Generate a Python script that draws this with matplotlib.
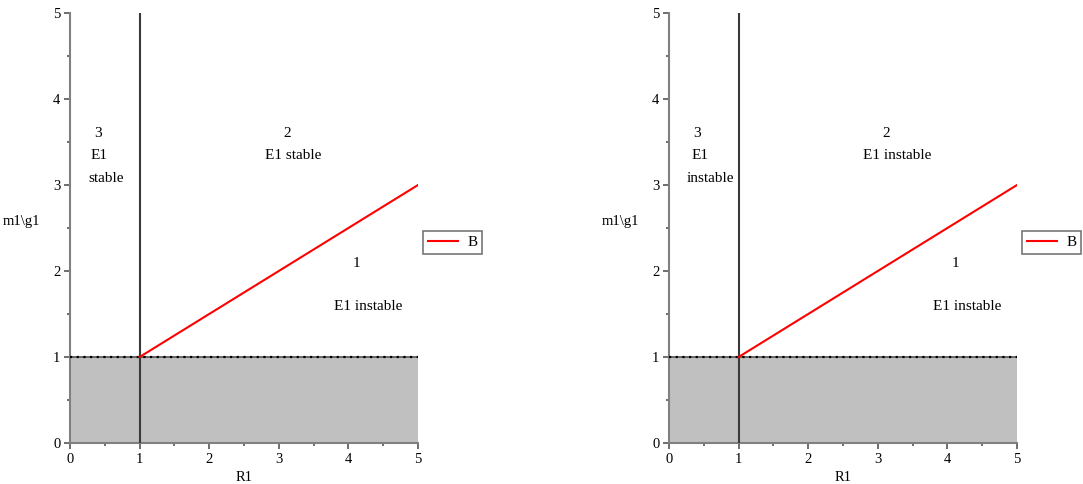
import matplotlib
matplotlib.use("Agg")
import matplotlib.pyplot as plt
import numpy as np

plt.rcParams['font.family'] = ['Liberation Serif', 'DejaVu Serif']

# Data
b_x = [1, 5]
b_y = [1, 3]
vline_x = 1
hline_y = 1
xlim = (0, 5)
ylim = (0, 5)
panels = [
    {"region3": ["3", "E1", "stable"], "region2": ["2", "E1 stable"], "region1": ["1", "E1 instable"]},
    {"region3": ["3", "E1", "instable"], "region2": ["2", "E1 instable"], "region1": ["1", "E1 instable"]},
]
region3_pos = [(0.40, 3.60), (0.42, 3.34), (0.52, 3.08)]
region3_pos_r = [(0.40, 3.60), (0.45, 3.34), (0.60, 3.08)]
region2_pos = [(3.12, 3.60), (3.20, 3.34)]
region2_pos_r = [(3.12, 3.60), (3.28, 3.34)]
region1_pos = [(4.12, 2.09), (4.28, 1.59)]

fig = plt.figure(figsize=(10.83, 4.84), dpi=100)
lefts = [70/1083, 669/1083]
for i, (left, p) in enumerate(zip(lefts, panels)):
    ax = fig.add_axes([left, 41/484, 348/1083, 430/484])
    ax.set_xlim(*xlim)
    ax.set_ylim(*ylim)
    ax.axhspan(0, hline_y, xmin=0, xmax=1, color='#c0c0c0', zorder=0, lw=0)
    ax.plot([xlim[0], xlim[1]], [hline_y, hline_y], color='#555555', lw=1.2, zorder=2)
    ax.plot([xlim[0], xlim[1]], [hline_y, hline_y], color='black', lw=1.6, ls=(0, (1, 2)), zorder=3)
    ax.plot([vline_x, vline_x], [ylim[0], ylim[1]], color='#3a3a3a', lw=1.5, zorder=3)
    ax.plot(b_x, b_y, color='#ff0000', lw=1.5, label='B', zorder=4)
    for s in ['top', 'right']:
        ax.spines[s].set_visible(False)
    for s in ['left', 'bottom']:
        ax.spines[s].set_color('#808080')
        ax.spines[s].set_linewidth(1.5)
    ax.set_xticks(range(0, 6))
    ax.set_yticks(range(0, 6))
    ax.set_xticks(np.arange(0.5, 5, 1), minor=True)
    ax.set_yticks(np.arange(0.5, 5, 1), minor=True)
    ax.tick_params(which='major', length=4, width=1.2, color='#555555', labelsize=10.5, direction='out', pad=3)
    ax.tick_params(which='minor', length=2.5, width=1.2, color='#555555', direction='out')
    ax.set_xlabel('R1', fontsize=10.5, labelpad=4)
    ax.set_ylabel('m1\\g1', fontsize=10.5, rotation=0, labelpad=0)
    ax.yaxis.set_label_coords(-0.14, 0.50)
    pos3 = region3_pos if i == 0 else region3_pos_r
    pos2 = region2_pos if i == 0 else region2_pos_r
    for t, (x, y) in zip(p["region3"], pos3):
        ax.text(x, y, t, ha='center', va='center', fontsize=11)
    for t, (x, y) in zip(p["region2"], pos2):
        ax.text(x, y, t, ha='center', va='center', fontsize=11)
    for t, (x, y) in zip(p["region1"], region1_pos):
        ax.text(x, y, t, ha='center', va='center', fontsize=11)
    leg = ax.legend(loc='center left', bbox_to_anchor=(1.015, 0.467), frameon=True, fancybox=False,
                    fontsize=11, handlelength=2.0, borderpad=0.3, handletextpad=0.6, borderaxespad=0)
    leg.get_frame().set_edgecolor('#555555')
    leg.get_frame().set_linewidth(1.2)

fig.savefig('out.png', dpi=100)
